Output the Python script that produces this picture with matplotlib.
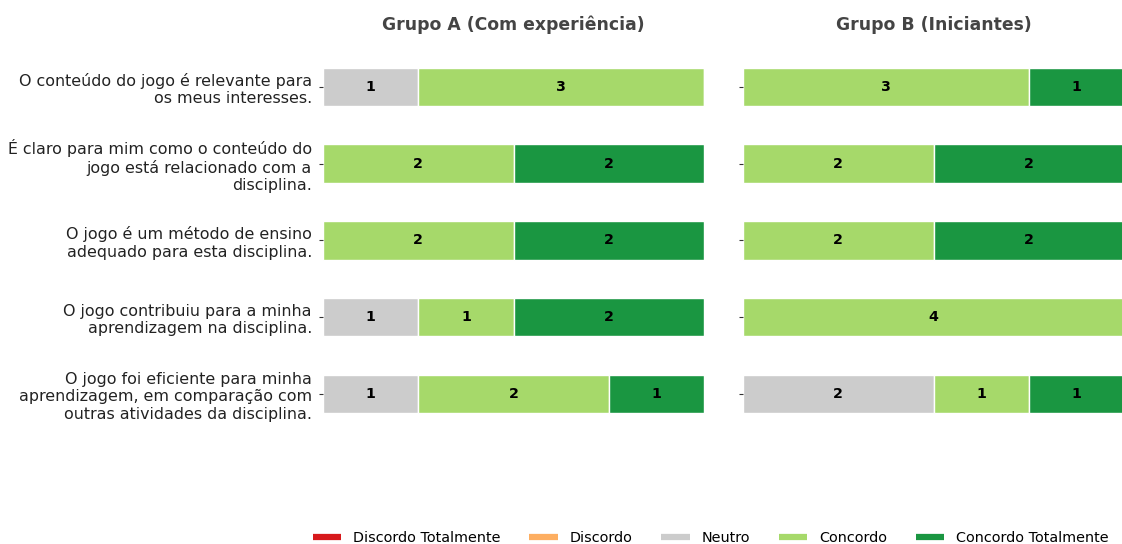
import numpy as np
import matplotlib.pyplot as plt
from matplotlib.lines import Line2D

perguntas = [
    "O conteúdo do jogo é relevante para\nos meus interesses.",
    "É claro para mim como o conteúdo do\njogo está relacionado com a\ndisciplina.",
    "O jogo é um método de ensino\nadequado para esta disciplina.",
    "O jogo contribuiu para a minha\naprendizagem na disciplina.",
    "O jogo foi eficiente para minha\naprendizagem, em comparação com\noutras atividades da disciplina.",
]
categorias = ["Discordo Totalmente", "Discordo", "Neutro", "Concordo", "Concordo Totalmente"]
cores = ["#d7191c", "#fdae61", "#cccccc", "#a6d96a", "#1a9641"]

# contagens por pergunta: [DT, D, N, C, CT]
grupo_a = np.array([
    [0, 0, 1, 3, 0],
    [0, 0, 0, 2, 2],
    [0, 0, 0, 2, 2],
    [0, 0, 1, 1, 2],
    [0, 0, 1, 2, 1],
])
grupo_b = np.array([
    [0, 0, 0, 3, 1],
    [0, 0, 0, 2, 2],
    [0, 0, 0, 2, 2],
    [0, 0, 0, 4, 0],
    [0, 0, 2, 1, 1],
])
titulos = ["Grupo A (Com experiência)", "Grupo B (Iniciantes)"]

fig = plt.figure(figsize=(11.22, 5.44), dpi=100)
ax_a = fig.add_axes([0.2879, 0.205, 0.3396, 0.7059])
ax_b = fig.add_axes([0.6622, 0.205, 0.3396, 0.7059])

y = np.arange(len(perguntas))
for ax, dados, titulo in zip([ax_a, ax_b], [grupo_a, grupo_b], titulos):
    esquerda = np.zeros(len(perguntas))
    for k, cat in enumerate(categorias):
        vals = dados[:, k]
        ax.barh(y, vals, left=esquerda, height=0.5, color=cores[k],
                edgecolor="white", linewidth=1)
        for i, v in enumerate(vals):
            if v > 0:
                ax.text(esquerda[i] + v / 2, y[i], str(v), ha="center", va="center",
                        fontsize=10.3, fontweight="bold", color="black")
        esquerda += vals
    ax.set_xlim(0, 4)
    ax.set_ylim(4.5, -0.5)
    ax.set_yticks(y)
    for s in ax.spines.values():
        s.set_visible(False)
    ax.xaxis.set_visible(False)
    ax.tick_params(axis="y", length=3, color="#333333", pad=5)
    ax.set_title(titulo, fontsize=12.4, fontweight="bold", color="#444444", pad=13)

ax_a.set_yticklabels(perguntas, fontsize=11.45, color="#222222")
ax_b.set_yticklabels([])

handles = [Line2D([0], [0], color=c, lw=4.5, solid_capstyle="butt") for c in cores]
fig.legend(handles, categorias, loc="lower center", ncol=5, frameon=False,
           fontsize=10.35, bbox_to_anchor=(710.5 / 1122, -0.025), columnspacing=2.0)

fig.savefig("out.png", dpi=100)
